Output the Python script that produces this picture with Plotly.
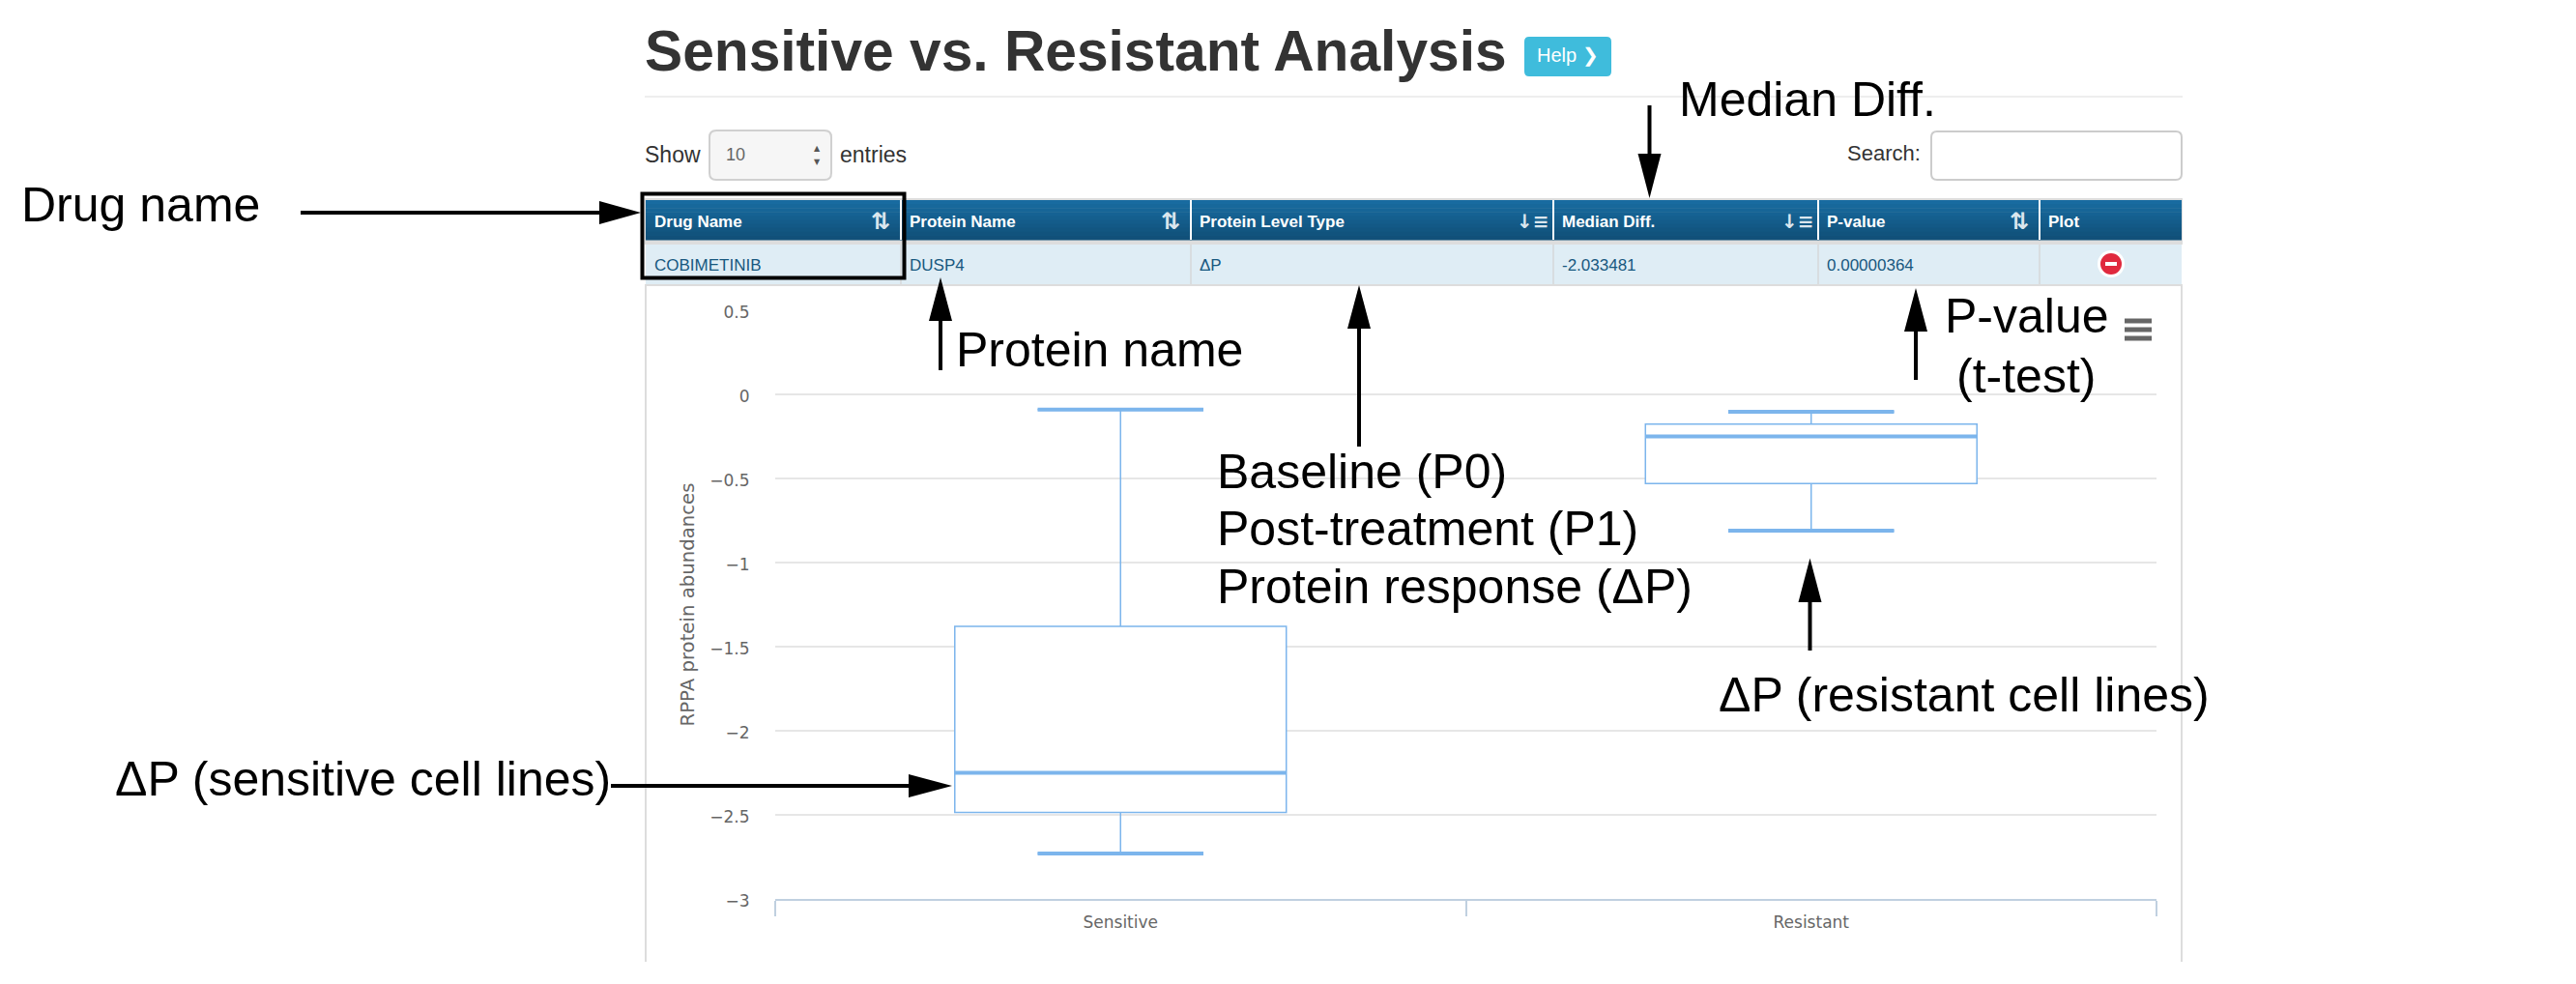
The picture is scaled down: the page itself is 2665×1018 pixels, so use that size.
import plotly.graph_objects as go

W, H = 2665, 1018

# ---------- data ----------
categories = ["Sensitive", "Resistant"]
lower_fence = [-2.73, -0.81]
q1_values = [-2.485, -0.53]
median_values = [-2.25, -0.25]
q3_values = [-1.38, -0.177]
upper_fence = [-0.09, -0.104]

y_ticks = [0.5, 0, -0.5, -1, -1.5, -2, -2.5, -3]
y_tick_labels = ["0.5", "0", "−0.5", "−1", "−1.5", "−2", "−2.5", "−3"]

table_columns = ["Drug Name", "Protein Name", "Protein Level Type", "Median Diff.", "P-value", "Plot"]
table_row = ["COBIMETINIB", "DUSP4", "ΔP", "-2.033481", "0.00000364", ""]
col_edges = [668, 932, 1232, 1607, 1881, 2110, 2257]
sort_icons = ["⇅", "⇅", "↓≡", "↓≡", "⇅", ""]

BOX_BLUE = "#7cb5ec"
SANS = "Liberation Sans"
CHART = "DejaVu Sans"


def px(x):
    return x / W


def py(y):
    return 1 - y / H


shapes = []
annotations = []


def rect(x0, y0, x1, y1, fill="rgba(0,0,0,0)", line=None, lw=0):
    shapes.append(dict(type="rect", xref="paper", yref="paper",
                       x0=px(x0), x1=px(x1), y0=py(y0), y1=py(y1),
                       fillcolor=fill, line=dict(color=line or "rgba(0,0,0,0)", width=lw)))


def rrect(x0, y0, x1, y1, r, fill, line=None, lw=0):
    p = (f"M {px(x0 + r)} {py(y0)} L {px(x1 - r)} {py(y0)} Q {px(x1)} {py(y0)} {px(x1)} {py(y0 + r)} "
         f"L {px(x1)} {py(y1 - r)} Q {px(x1)} {py(y1)} {px(x1 - r)} {py(y1)} "
         f"L {px(x0 + r)} {py(y1)} Q {px(x0)} {py(y1)} {px(x0)} {py(y1 - r)} "
         f"L {px(x0)} {py(y0 + r)} Q {px(x0)} {py(y0)} {px(x0 + r)} {py(y0)} Z")
    shapes.append(dict(type="path", xref="paper", yref="paper", path=p, fillcolor=fill,
                       line=dict(color=line or "rgba(0,0,0,0)", width=lw)))


def line(x0, y0, x1, y1, color, lw):
    shapes.append(dict(type="line", xref="paper", yref="paper",
                       x0=px(x0), x1=px(x1), y0=py(y0), y1=py(y1),
                       line=dict(color=color, width=lw)))


def circle(cx, cy, r, fill):
    shapes.append(dict(type="circle", xref="paper", yref="paper",
                       x0=px(cx - r), x1=px(cx + r), y0=py(cy + r), y1=py(cy - r),
                       fillcolor=fill, line=dict(width=0)))


def text(x, y, s, size, color="#000", anchor="left", family=SANS, bold=False):
    annotations.append(dict(xref="paper", yref="paper", x=px(x), y=py(y), text=f"<b>{s}</b>" if bold else s,
                            showarrow=False, xanchor=anchor, yanchor="middle", borderpad=0, borderwidth=0,
                            font=dict(family=family, size=size, color=color)))


def arrow(x0, y0, xt, yt, base):
    """Arrow from (x0,y0) to tip (xt,yt); `base` is the shaft coordinate where the head begins."""
    half = 12
    if x0 == xt:
        line(x0, y0, xt, base, "#000", 4)
        p = f"M {px(xt)} {py(yt)} L {px(xt - half)} {py(base)} L {px(xt + half)} {py(base)} Z"
    else:
        line(x0, y0, base, yt, "#000", 4)
        p = f"M {px(xt)} {py(yt)} L {px(base)} {py(yt - half)} L {px(base)} {py(yt + half)} Z"
    shapes.append(dict(type="path", xref="paper", yref="paper", path=p, fillcolor="#000", line=dict(width=0)))


# ---------- page heading and controls ----------
text(667, 52, "Sensitive vs. Resistant Analysis", 58.7, "#333333", bold=True)
rrect(1577, 38, 1667, 79, 5, "#3fbcdc")
text(1622, 58, "Help ❯", 20, "#ffffff", "center")
line(667, 100, 2258, 100, "#eeeeee", 2)

text(667, 160, "Show", 23, "#333333")
rrect(734, 135, 860, 186, 7, "#f6f6f6", "#d0d0d0", 2)
text(751, 160, "10", 18, "#666666")
text(845, 153, "▲", 8, "#555555", "center", CHART)
text(845, 167, "▼", 8, "#555555", "center", CHART)
text(869, 160, "entries", 23, "#333333")
text(1987, 159, "Search:", 22, "#333333", "right")
rrect(1998, 136, 2257, 186, 6, "#ffffff", "#cccccc", 2)

# ---------- table ----------
rect(667, 205, 2258, 253, "#dddddd")
strips = 10
for i in range(strips):
    t = i / (strips - 1)
    col = f"rgb({int(24 - 7 * t)},{int(107 - 27 * t)},{int(160 - 39 * t)})"
    rect(668, 207 + i * 4.1, 2257, 207 + (i + 1) * 4.1 + 0.5, col)
rect(668, 253, 2257, 294, "#dfedf5")
line(667, 295, 2258, 295, "#dddddd", 2)
for e in col_edges[1:-1]:
    line(e, 207, e, 248, "#ffffff", 2)
    line(e, 253, e, 294, "#d8dde0", 2)
for i, name in enumerate(table_columns):
    text(col_edges[i] + 9, 229, name, 17, "#ffffff", bold=True)
    if sort_icons[i]:
        size = 24 if sort_icons[i] == "⇅" else 20
        text(col_edges[i + 1] - 21, 229, sort_icons[i], size, "#dbe6ee", "center", CHART, True)
    if table_row[i]:
        text(col_edges[i] + 9, 275, table_row[i], 17, "#17587f")
circle(2184, 273, 14, "#ffffff")
circle(2184, 273, 11, "#e0293e")
rect(2178, 271, 2190, 275, "#ffffff")

# ---------- chart panel ----------
line(668, 296, 668, 995, "#dddddd", 2)
line(2257, 296, 2257, 995, "#dddddd", 2)
for yy in (332, 341, 350):
    line(2198, yy, 2226, yy, "#666666", 5)

# heavy median and whisker caps, placed through the chart's own axes
for i in range(len(categories)):
    shapes.append(dict(type="line", xref="x", yref="y", x0=i - 0.24, x1=i + 0.24,
                       y0=median_values[i], y1=median_values[i], line=dict(color=BOX_BLUE, width=4)))
    for v in (lower_fence[i], upper_fence[i]):
        shapes.append(dict(type="line", xref="x", yref="y", x0=i - 0.12, x1=i + 0.12,
                           y0=v, y1=v, line=dict(color=BOX_BLUE, width=4)))

# ---------- call-outs ----------
rect(664.5, 200.5, 935.5, 287.5, "rgba(0,0,0,0)", "#000000", 4)
arrow(311, 220, 663, 220, 620)
arrow(1706.5, 109, 1706.5, 205, 159)
arrow(973, 383, 973, 287, 332)
arrow(1406, 462, 1406, 295, 340)
arrow(1982, 393, 1982, 298, 343)
arrow(1872.5, 673, 1872.5, 577.5, 623)
arrow(632, 813, 985, 813, 940)

CALL = 50
text(22, 212, "Drug name", CALL)
text(1737, 103, "Median Diff.", CALL)
text(989, 362, "Protein name", CALL)
text(2012, 327, "P-value", CALL)
text(2096, 389, "(t-test)", CALL, anchor="center")
text(1259, 488, "Baseline (P0)", CALL)
text(1259, 547, "Post-treatment (P1)", CALL)
text(1259, 607, "Protein response (ΔP)", CALL)
text(1778, 719, "ΔP (resistant cell lines)", CALL)
text(119, 806, "ΔP (sensitive cell lines)", CALL)

# ---------- figure ----------
fig = go.Figure(go.Box(
    x=categories,
    lowerfence=lower_fence, q1=q1_values, median=median_values, q3=q3_values, upperfence=upper_fence,
    width=0.48, whiskerwidth=0.5,
    fillcolor="#ffffff", line=dict(color=BOX_BLUE, width=1.5), hoverinfo="skip",
))
fig.update_layout(
    width=W, height=H, margin=dict(l=0, r=0, t=0, b=0, autoexpand=False),
    paper_bgcolor="#ffffff", plot_bgcolor="#ffffff", showlegend=False,
    shapes=shapes, annotations=annotations,
    xaxis=dict(domain=[px(802), px(2231)], type="category", categoryorder="array", categoryarray=categories,
               automargin=False,
               range=[-0.5, 1.5], tickson="boundaries", ticks="outside", ticklen=16, tickwidth=2,
               ticklabelstandoff=8,
               tickcolor="#c0d0e0", showline=True, linecolor="#c0d0e0", linewidth=2, showgrid=False,
               zeroline=False, tickfont=dict(family=CHART, size=17, color="#666666"), fixedrange=True),
    yaxis=dict(domain=[py(930), py(321)], range=[-3, 0.5], tickvals=y_ticks, ticktext=y_tick_labels,
               automargin=False, ticklabelshift=2,
               showgrid=True, gridcolor="#e6e6e6", gridwidth=2, zeroline=False, showline=False,
               ticks="outside", ticklen=22, tickcolor="rgba(0,0,0,0)",
               tickfont=dict(family=CHART, size=17, color="#666666"), fixedrange=True,
               title=dict(text="RPPA protein abundances", standoff=10,
                          font=dict(family=CHART, size=19.7, color="#666666"))),
)
fig.write_html("out.html", config=dict(displayModeBar=False, staticPlot=True),
               post_script="document.body.style.margin='0';document.body.style.overflow='hidden';")
